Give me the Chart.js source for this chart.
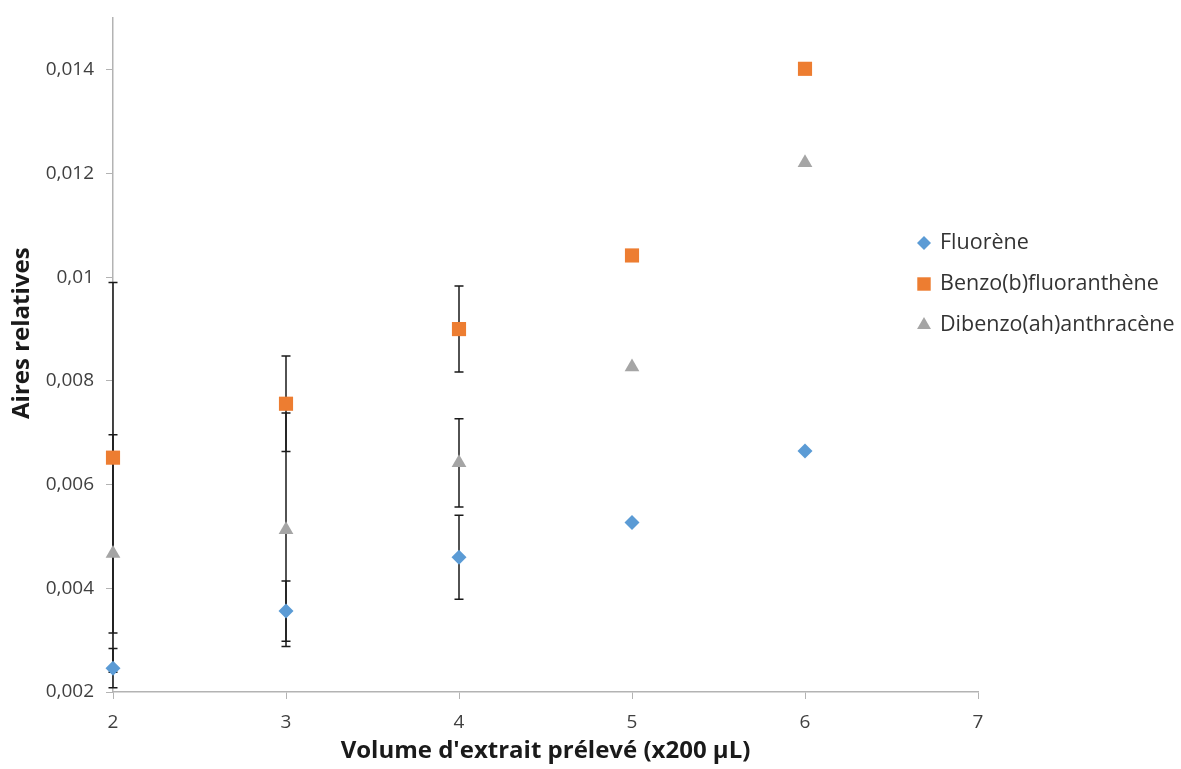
<!DOCTYPE html>
<html>
<head>
<meta charset="utf-8">
<script src="https://cdn.jsdelivr.net/npm/chart.js@4/dist/chart.umd.min.js"></script>
<style>
  html, body { margin: 0; padding: 0; background: #fff; }
  #wrap { width: 1181px; height: 769px; position: relative; }
</style>
</head>
<body>
<div id="wrap"><canvas id="chart"></canvas></div>
<script>
// =====================
// DONNEES
// =====================
const volumes = [2, 3, 4, 5, 6];
const fluorene = [0.00246, 0.00356, 0.00460, 0.00527, 0.00665];
const benzo = [0.00652, 0.00756, 0.00900, 0.01042, 0.01402];
const dibenzo = [0.00467, 0.00513, 0.00642, 0.00827, 0.01221];

// ecarts (barres d'erreur), null = pas de barre
const fluoreneErr = [0.00038, 0.00058, 0.00081, null, null];
const benzoErr = [0.00338, 0.00092, 0.00083, null, null];
const dibenzoErr = [0.00229, 0.00225, 0.00085, null, null];

const xTicks = [2, 3, 4, 5, 6, 7];
const yTicks = [0.002, 0.004, 0.006, 0.008, 0.010, 0.012, 0.014];

const FONT = "'Open Sans', sans-serif";
const AXIS_GREY = "#b3b3b3";

const toPoints = arr => arr.map((v, i) => ({ x: volumes[i], y: v }));

// =====================
// BARRES D'ERREUR
// =====================
const errorBars = {
    id: "errorBars",
    beforeDatasetsDraw(chart) {
        const ctx = chart.ctx;
        const y = chart.scales.y;
        const area = chart.chartArea;
        ctx.save();
        ctx.beginPath();
        ctx.rect(area.left - 10, area.top, area.right - area.left + 20, area.bottom - area.top);
        ctx.clip();
        ctx.strokeStyle = "#1a1a1a";
        ctx.lineWidth = 1.5;
        chart.data.datasets.forEach((ds, d) => {
            const meta = chart.getDatasetMeta(d);
            ds.errors.forEach((e, i) => {
                if (e == null) return;
                const px = meta.data[i].x;
                const top = y.getPixelForValue(ds.data[i].y + e);
                const bot = y.getPixelForValue(ds.data[i].y - e);
                ctx.beginPath();
                ctx.moveTo(px, top);
                ctx.lineTo(px, bot);
                ctx.moveTo(px - 4.5, top);
                ctx.lineTo(px + 4.5, top);
                ctx.moveTo(px - 4.5, bot);
                ctx.lineTo(px + 4.5, bot);
                ctx.stroke();
            });
        });
        ctx.restore();
    }
};

// =====================
// LEGENDE (style Excel, posee sur la droite)
// =====================
const legendExcel = {
    id: "legendExcel",
    afterDraw(chart) {
        const ctx = chart.ctx;
        ctx.save();
        ctx.font = "21.5px " + FONT;
        ctx.textBaseline = "middle";
        ctx.textAlign = "left";
        chart.data.datasets.forEach((ds, i) => {
            const y = 243 + i * 41;
            ctx.fillStyle = ds.backgroundColor;
            Chart.helpers.drawPoint(ctx, {
                pointStyle: ds.pointStyle,
                radius: ds.pointRadius - 0.5,
                rotation: 0,
                borderWidth: 0
            }, 924, y);
            ctx.fillStyle = "#333333";
            ctx.fillText(ds.label, 940, y);
        });
        ctx.restore();
    }
};

// =====================
// NUAGE DE POINTS
// =====================
new Chart(document.getElementById("chart"), {
    type: "scatter",
    data: {
        datasets: [
            {
                label: "Fluorène",
                data: toPoints(fluorene),
                errors: fluoreneErr,
                pointStyle: "rectRot",
                pointRadius: 7.5,
                backgroundColor: "#5B9BD5",
                borderColor: "#5B9BD5",
                borderWidth: 0,
                clip: false
            },
            {
                label: "Benzo(b)fluoranthène",
                data: toPoints(benzo),
                errors: benzoErr,
                pointStyle: "rect",
                pointRadius: 10,
                backgroundColor: "#ED7D31",
                borderColor: "#ED7D31",
                borderWidth: 0,
                clip: false
            },
            {
                label: "Dibenzo(ah)anthracène",
                data: toPoints(dibenzo),
                errors: dibenzoErr,
                pointStyle: "triangle",
                pointRadius: 8.5,
                backgroundColor: "#A5A5A5",
                borderColor: "#A5A5A5",
                borderWidth: 0,
                clip: false
            }
        ]
    },
    options: {
        responsive: true,
        maintainAspectRatio: false,
        animation: false,
        layout: { padding: { top: 18, right: 203, left: 0, bottom: 0 } },
        plugins: {
            tooltip: { enabled: false },
            legend: { display: false }
        },
        scales: {
            x: {
                type: "linear",
                min: 2,
                max: 7,
                afterBuildTicks: s => { s.ticks = xTicks.map(v => ({ value: v })); },
                afterFit: s => { s.height = 77; s.paddingLeft = 0; s.paddingRight = 0; },
                grid: { drawOnChartArea: false, tickLength: 7, color: AXIS_GREY },
                border: { color: AXIS_GREY, width: 1.5 },
                ticks: { color: "#404040", padding: 12, font: { family: FONT, size: 19 } },
                title: {
                    display: true,
                    text: "Volume d'extrait prélevé (x200 µL)",
                    color: "#1a1a1a",
                    font: { family: FONT, size: 24, weight: "bold" },
                    padding: { top: 0, bottom: 3 }
                }
            },
            y: {
                type: "linear",
                min: 0.002,
                max: 0.015,
                afterBuildTicks: s => { s.ticks = yTicks.map(v => ({ value: v })); },
                afterFit: s => { s.width = 113; s.paddingTop = 0; s.paddingBottom = 0; },
                grid: { drawOnChartArea: false, tickLength: 7, color: AXIS_GREY },
                border: { color: AXIS_GREY, width: 1.5 },
                ticks: {
                    color: "#404040",
                    padding: 12,
                    font: { family: FONT, size: 19 },
                    callback: v => String(+v.toFixed(3)).replace(".", ",")
                },
                title: {
                    display: true,
                    // espaces en tete : le titre est un peu plus haut que le milieu de l'axe
                    text: "       Aires relatives",
                    color: "#1a1a1a",
                    font: { family: FONT, size: 24, weight: "bold" },
                    padding: { top: 7.5, bottom: 0 }
                }
            }
        }
    },
    plugins: [errorBars, legendExcel]
});
</script>
</body>
</html>
